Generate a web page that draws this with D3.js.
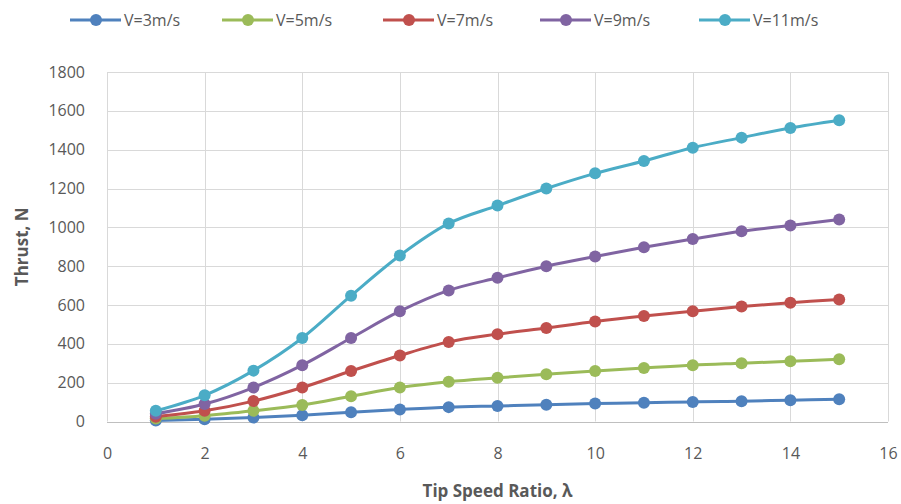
<!DOCTYPE html>
<html>
<head>
<meta charset="utf-8">
<script src="https://cdn.jsdelivr.net/npm/d3@7"></script>
<style>
  body { margin: 0; background: #fff; }
  text { font-family: "Open Sans", "Liberation Sans", sans-serif; fill: #595959; }
</style>
</head>
<body>
<svg id="chart" width="901" height="504"></svg>
<script>
const tsr = [1, 2, 3, 4, 5, 6, 7, 8, 9, 10, 11, 12, 13, 14, 15]
const seriesNames = ['V=3m/s', 'V=5m/s', 'V=7m/s', 'V=9m/s', 'V=11m/s']
const colors = ['#4F81BD', '#9BBB59', '#C0504D', '#8064A2', '#4BACC6']
const v3 = [5, 12, 20, 32, 48, 62, 74, 80, 86, 93, 96, 101, 104, 110, 115]
const v5 = [15, 30, 55, 85, 130, 175, 205, 225, 243, 260, 275, 290, 300, 310, 320]
const v7 = [25, 55, 105, 175, 260, 340, 410, 450, 482, 515, 543, 568, 592, 612, 628]
const v9 = [40, 90, 175, 290, 430, 568, 675, 740, 800, 850, 897, 940, 980, 1010, 1040]
const v11 = [55, 135, 262, 430, 648, 855, 1020, 1112, 1200, 1278, 1342, 1410, 1462, 1512, 1552]
const xTicks = [0, 2, 4, 6, 8, 10, 12, 14, 16]
const yTicks = [0, 200, 400, 600, 800, 1000, 1200, 1400, 1600, 1800]

const series = [v3, v5, v7, v9, v11].map((vals, i) => ({
    name: seriesNames[i],
    color: colors[i],
    points: vals.map((v, j) => ({ x: tsr[j], y: v }))
}))

const svg = d3.select('#chart')
const x = d3.scaleLinear().domain([0, 16]).range([107, 888])
const y = d3.scaleLinear().domain([0, 1800]).range([421.5, 72])

// grid
svg.append('g')
    .selectAll('line.h')
    .data(yTicks.slice(1))
    .join('line')
    .attr('x1', x(0)).attr('x2', x(16))
    .attr('y1', d => Math.round(y(d)) + 0.5).attr('y2', d => Math.round(y(d)) + 0.5)
    .attr('stroke', '#d9d9d9').attr('stroke-width', 1)

svg.append('g')
    .selectAll('line.v')
    .data(xTicks)
    .join('line')
    .attr('y1', y(0)).attr('y2', y(1800))
    .attr('x1', d => Math.round(x(d)) + 0.5).attr('x2', d => Math.round(x(d)) + 0.5)
    .attr('stroke', '#d9d9d9').attr('stroke-width', 1)

// bottom axis line
svg.append('line')
    .attr('x1', x(0)).attr('x2', x(16))
    .attr('y1', Math.round(y(0)) + 0.5).attr('y2', Math.round(y(0)) + 0.5)
    .attr('stroke', '#bfbfbf')

// tick labels
const xAxis = svg.append('g')
    .attr('transform', `translate(0, ${y(0) + 26})`)
    .call(d3.axisBottom(x).tickValues(xTicks).tickSize(0).tickPadding(0))
xAxis.select('.domain').remove()
xAxis.selectAll('text').attr('font-size', 16).attr('fill', '#595959').attr('font-family', null)

const yAxis = svg.append('g')
    .attr('transform', `translate(${x(0) - 22}, 0)`)
    .call(d3.axisLeft(y).tickValues(yTicks).tickFormat(d3.format('d')).tickSize(0).tickPadding(0))
yAxis.select('.domain').remove()
yAxis.selectAll('text').attr('font-size', 16).attr('fill', '#595959').attr('font-family', null)

// axis titles
svg.append('text')
    .attr('x', (x(0) + x(16)) / 2)
    .attr('y', 497)
    .attr('text-anchor', 'middle')
    .attr('font-size', 17).attr('font-weight', 'bold')
    .text('Tip Speed Ratio, λ')

svg.append('text')
    .attr('transform', `translate(28, ${(y(0) + y(1800)) / 2}) rotate(-90)`)
    .attr('text-anchor', 'middle')
    .attr('font-size', 17).attr('font-weight', 'bold')
    .text('Thrust, N')

// lines
const line = d3.line()
    .x(d => x(d.x))
    .y(d => y(d.y))
    .curve(d3.curveCatmullRom.alpha(0.5))

const g = svg.selectAll('g.series')
    .data(series)
    .join('g')
    .classed('series', true)

g.append('path')
    .attr('d', d => line(d.points))
    .attr('fill', 'none')
    .attr('stroke', d => d.color)
    .attr('stroke-width', 3)

g.selectAll('circle')
    .data(d => d.points.map(p => ({ ...p, color: d.color })))
    .join('circle')
    .attr('cx', d => x(d.x))
    .attr('cy', d => y(d.y))
    .attr('r', 6)
    .attr('fill', d => d.color)

// legend
const legendX = [70, 222, 383, 540, 699]
const lg = svg.selectAll('g.legend')
    .data(series)
    .join('g')
    .classed('legend', true)
    .attr('transform', (d, i) => `translate(${legendX[i]}, 20)`)

lg.append('line')
    .attr('x1', 0).attr('x2', 51)
    .attr('stroke', d => d.color).attr('stroke-width', 3)
lg.append('circle')
    .attr('cx', 26).attr('r', 6)
    .attr('fill', d => d.color)
lg.append('text')
    .attr('x', 54).attr('dy', '0.35em')
    .attr('font-size', 16)
    .text(d => d.name)
</script>
</body>
</html>
